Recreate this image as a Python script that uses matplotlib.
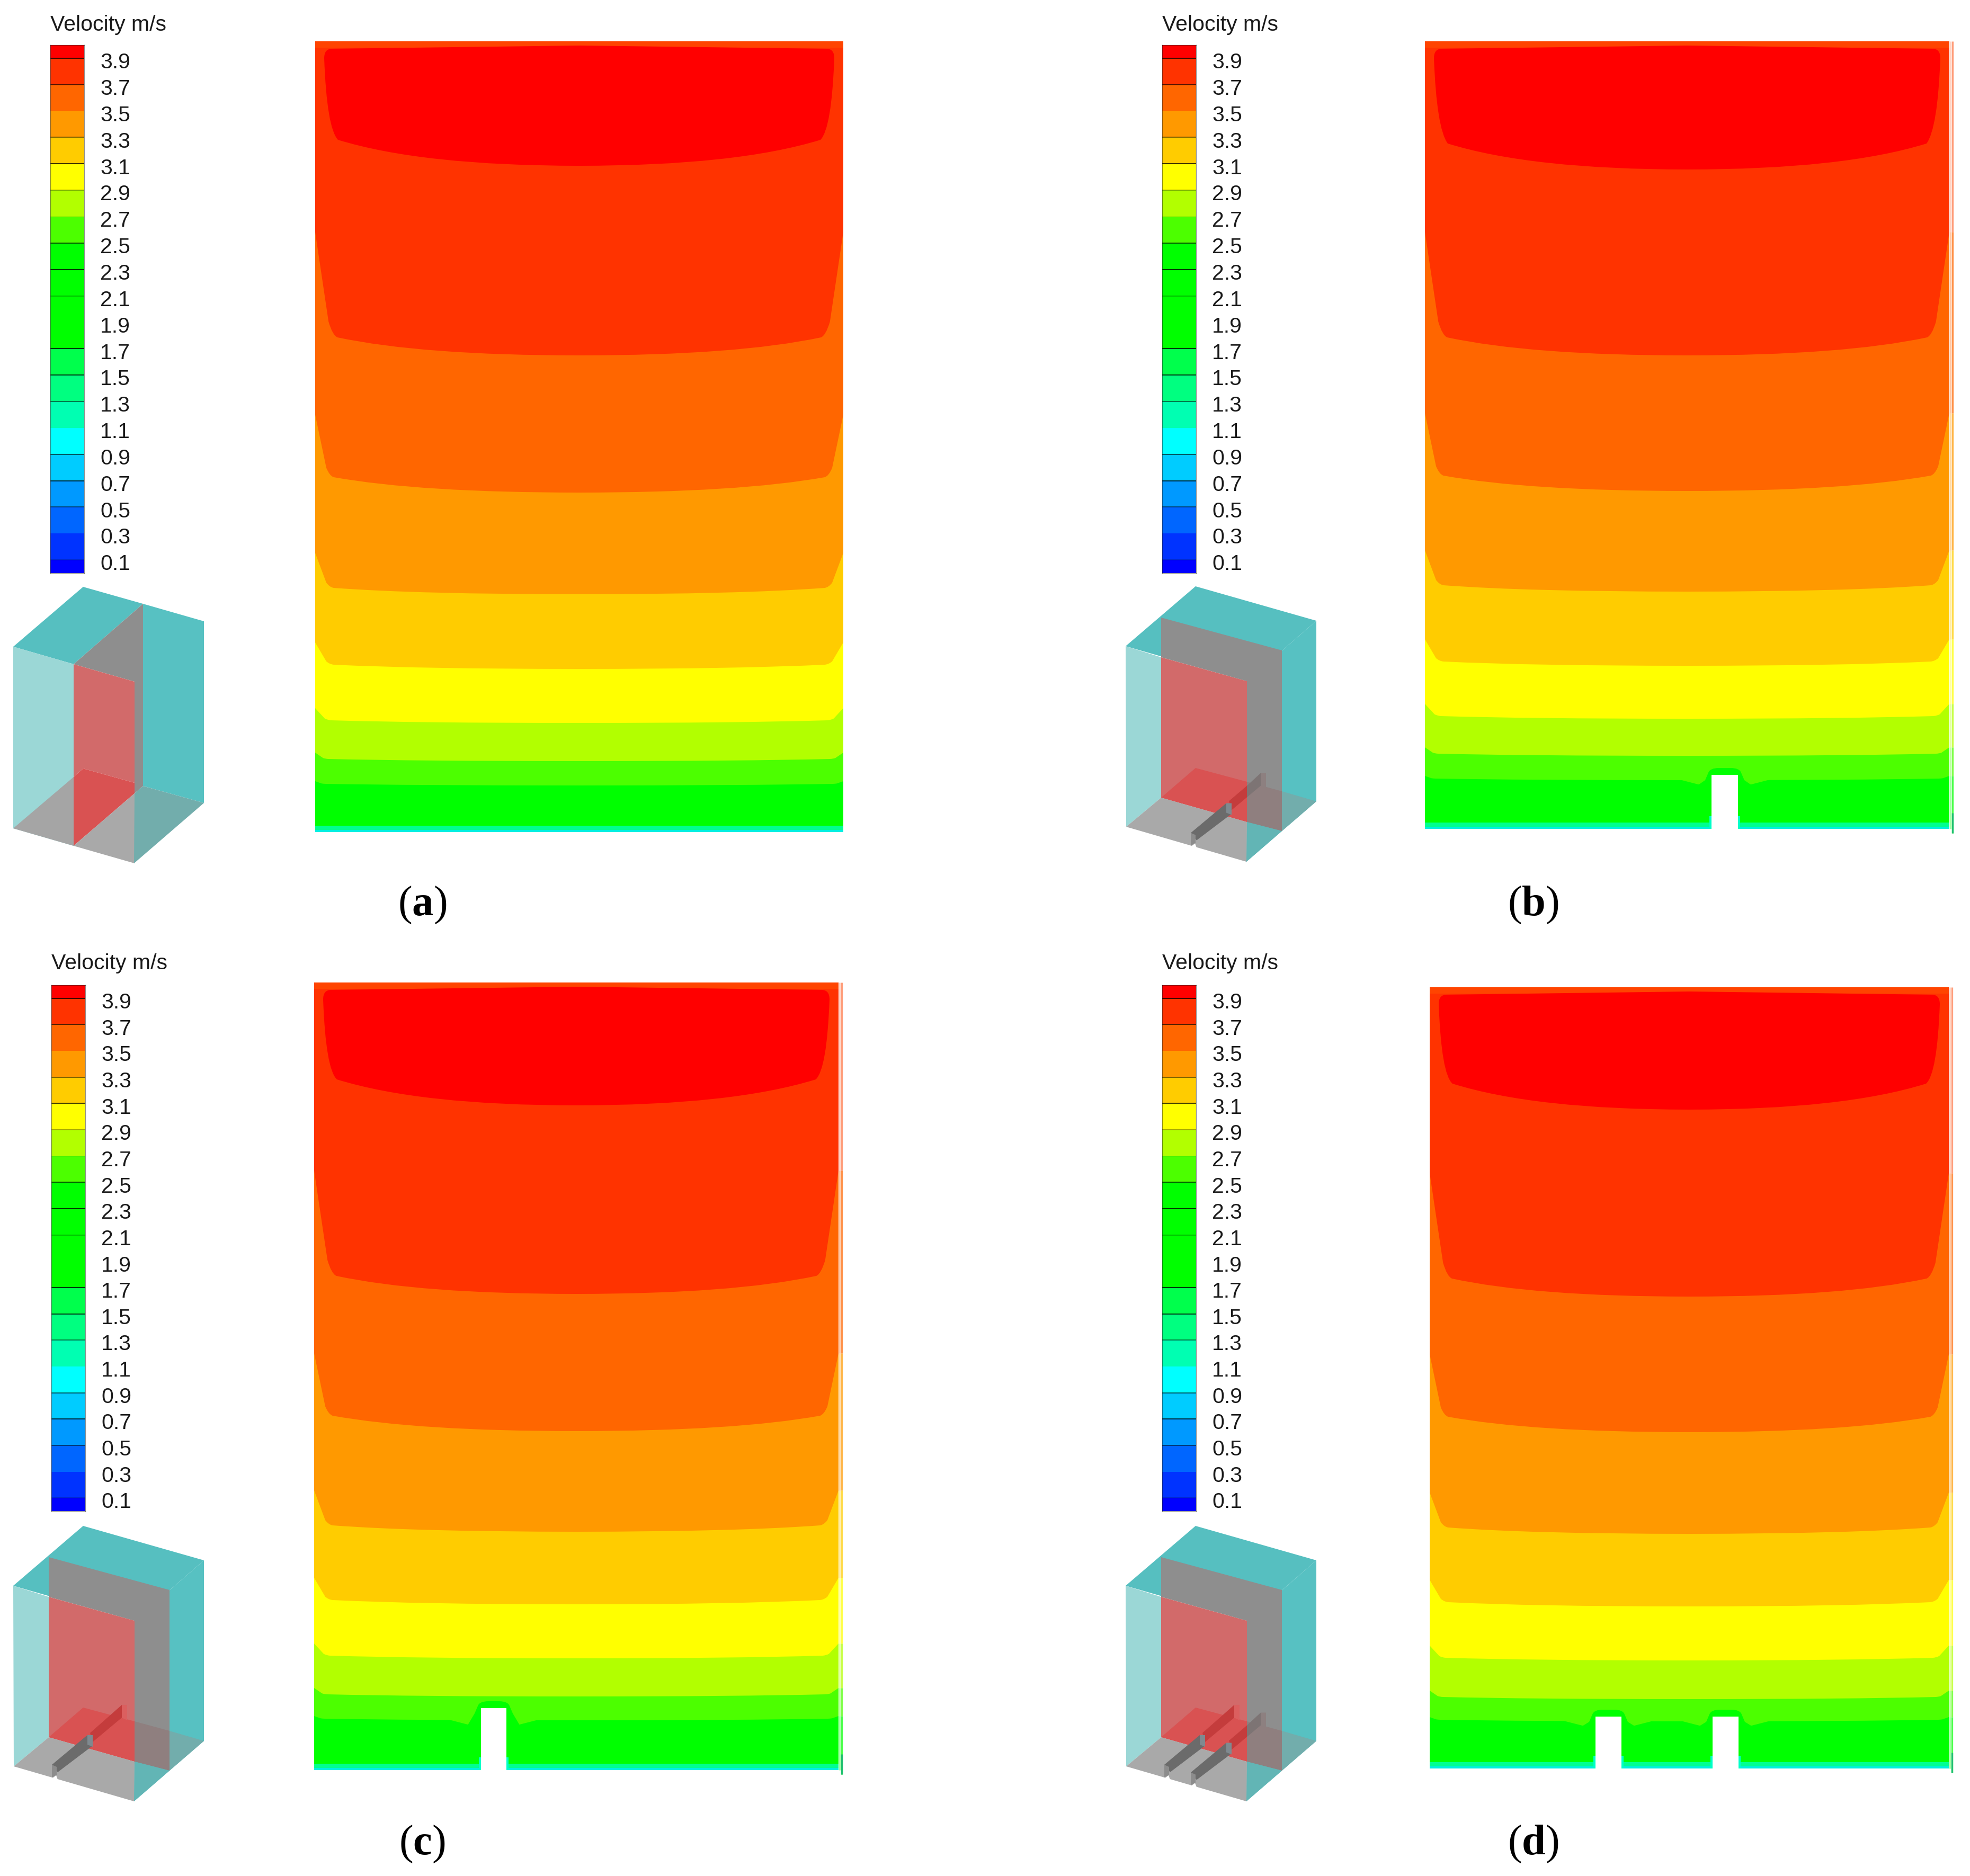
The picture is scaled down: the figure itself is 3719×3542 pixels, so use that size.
import matplotlib
matplotlib.use("Agg")
from matplotlib import pyplot as plt
from matplotlib.path import Path
from matplotlib.patches import PathPatch

plt.rcParams["mathtext.fontset"] = "custom"
plt.rcParams["mathtext.rm"] = "Liberation Serif"
plt.rcParams["mathtext.bf"] = "Liberation Serif:bold"

W, H = 3719, 3542

# colour bar, from the lowest cell to the highest
bar_edges = [0.0, 0.1, 0.3, 0.5, 0.7, 0.9, 1.1, 1.3, 1.5, 1.7, 1.9, 2.1, 2.3, 2.5, 2.7, 2.9, 3.1, 3.3, 3.5, 3.7, 3.9, 4.0]
bar_colors = ["#0000ff", "#0033ff", "#0066ff", "#0099ff", "#00ccff", "#00ffff", "#00ffb2", "#00ff80", "#00ff4c",
              "#00ff00", "#00ff00", "#00ff00", "#00ff00", "#4cff00", "#b2ff00", "#ffff00", "#ffcc00", "#ff9900",
              "#ff6600", "#ff3300", "#ff0000"]
bar_ticks = [0.1, 0.3, 0.5, 0.7, 0.9, 1.1, 1.3, 1.5, 1.7, 1.9, 2.1, 2.3, 2.5, 2.7, 2.9, 3.1, 3.3, 3.5, 3.7, 3.9]
line_alpha = [0.25, 0.0, 0.6, 0.9, 0.7, 0.0, 0.6, 0.9, 0.9, 0.0, 0.3, 0.9, 0.8, 0.05, 0.4, 0.9, 0.6, 0.0, 0.8, 0.9]

# contour bands in the slices, top to bottom
band_colors = ["#ff6600", "#ff9900", "#ffcc00", "#ffff00", "#b2ff00", "#4cff00", "#00ff00"]
corner_drop = [34, 29, 12, 8, 5, 4, 3]
wall_drop = [233, 147, 78, 50, 28, 16, 8]
corner_dx = [42, 35, 35, 35, 30, 25, 20]

# slice frames: left, right, top, bottom
frames = {"a": (595, 1592, 78, 1571), "b": (2690, 3680, 78, 1565),
          "c": (593, 1583, 1855, 3342), "d": (2699, 3679, 1864, 3339)}
# lowest edge of the red zone
red_bottom = {"a": 313, "b": 320, "c": 2087, "d": 2095}
# y of each band boundary along the middle of the slice
band_mid = {"a": [671, 930, 1122, 1263, 1365, 1437, 1483],
            "b": [671, 927, 1117, 1257, 1357, 1427, 1473],
            "c": [2443, 2702, 2892, 3029, 3131, 3203, 3248],
            "d": [2448, 2704, 2896, 3033, 3135, 3208, 3250]}
# blocks cut out of the slice floor: left, right, top
notches = {"a": [], "b": [(3231, 3281, 1463)], "c": [(908, 956, 3225)],
           "d": [(3012, 3061, 3241), (3233, 3282, 3241)]}
side_line = {"a": False, "b": True, "c": True, "d": True}

# colour bar and label placement: bar left, bar top, bar bottom, title y
bars = {"a": (95, 85, 1082, 47), "b": (2194, 85, 1082, 47), "c": (97, 1860, 2853, 1819), "d": (2194, 1860, 2853, 1819)}
letters = {"a": (797, 1709), "b": (2894, 1709), "c": (797, 3482), "d": (2894, 3482)}

# room sketch: outlines for panel c, shifted for b and d
inset_shift = {"b": (2100, -1774), "c": (0, 0), "d": (2100, 0)}
rib_fronts = {"b": [148], "c": [98], "d": [98, 148]}
room_parts = [
    ("#56bfc0", [(25, 2994), (157, 2881), (385, 2946), (254, 3060)]),
    ("#57c1c2", [(385, 2946), (385, 3287), (253, 3401), (254, 3060)]),
    ("#9bd7d6", [(25, 2994), (92, 3015), (92, 3280), (26, 3335)]),
    ("#8e8e8e", [(92, 2940), (320, 3002), (320, 3343), (254, 3326), (254, 3060), (92, 3015)]),
    ("#d26a6a", [(92, 3015), (254, 3060), (254, 3326), (92, 3280)]),
    ("#d95252", [(92, 3280), (157, 3224), (254, 3250), (254, 3326)]),
    ("#8f7f7f", [(254, 3250), (320, 3268), (320, 3343), (254, 3326)]),
    ("#72adac", [(320, 3268), (385, 3287), (320, 3343)]),
    ("#62b5b5", [(254, 3326), (320, 3343), (253, 3401)]),
    ("#a9a9a9", [(26, 3335), (92, 3280), (254, 3326), (253, 3401)]),
]
room_a_parts = [
    ("#56bfc0", [(25, 1221), (157, 1108), (270, 1140), (139, 1254)]),
    ("#9bd7d6", [(25, 1221), (139, 1254), (139, 1597), (25, 1564)]),
    ("#8e8e8e", [(139, 1254), (270, 1140), (270, 1484), (254, 1498), (254, 1287)]),
    ("#d26a6a", [(139, 1254), (254, 1287), (254, 1478), (157, 1451), (139, 1467)]),
    ("#57c1c2", [(270, 1140), (385, 1173), (385, 1516), (270, 1484)]),
    ("#a5a5a5", [(25, 1564), (139, 1467), (139, 1597)]),
    ("#d95252", [(139, 1597), (139, 1467), (157, 1451), (254, 1478), (254, 1498)]),
    ("#a9a9a9", [(139, 1597), (254, 1498), (254, 1630)]),
    ("#72adac", [(254, 1498), (270, 1484), (385, 1516), (253, 1630)]),
]


def fill_poly(ax, pts, color, z, dx=0, dy=0):
    ax.fill([p[0] + dx for p in pts], [p[1] + dy for p in pts], color=color, lw=0, zorder=z)


def fill_band(ax, frame, wall, corner, mid, dx, color, z):
    xl, xr, yt, yb = frame
    xc = (xl + xr) / 2
    rise = corner - wall
    xa = xl + dx
    xb = xr - dx
    verts = [(xl, wall), (xl + 0.6 * dx, corner - 0.15 * rise), (xl + 0.78 * dx, corner - 0.02 * rise), (xa, corner),
             (xa + 0.35 * (xc - xa), mid), (xc, mid),
             (xb - 0.35 * (xb - xc), mid), (xb, corner),
             (xr - 0.78 * dx, corner - 0.02 * rise), (xr - 0.6 * dx, corner - 0.15 * rise), (xr, wall),
             (xr, yb), (xl, yb), (xl, wall)]
    codes = [Path.MOVETO, Path.LINETO, Path.CURVE3, Path.CURVE3,
             Path.CURVE3, Path.CURVE3,
             Path.CURVE3, Path.CURVE3,
             Path.CURVE3, Path.CURVE3, Path.LINETO,
             Path.LINETO, Path.LINETO, Path.CLOSEPOLY]
    ax.add_patch(PathPatch(Path(verts, codes), facecolor=color, edgecolor="none", zorder=z))


def red_zone(ax, frame, bottom):
    xl, xr, yt, yb = frame
    xc = (xl + xr) / 2
    t = yt + 14
    xa = xl + 43
    xb = xr - 43
    verts = [(xl + 17, t + 18), (xl + 17, t), (xl + 32, t), (xc, t - 6), (xr - 32, t), (xr - 17, t), (xr - 17, t + 18),
             (xr - 22, t + 150), (xb, bottom - 49), (xb - 0.35 * (xb - xc), bottom), (xc, bottom),
             (xa + 0.35 * (xc - xa), bottom), (xa, bottom - 49), (xl + 22, t + 150), (xl + 17, t + 18), (xl + 17, t + 18)]
    codes = [Path.MOVETO, Path.CURVE3, Path.CURVE3, Path.LINETO, Path.LINETO, Path.CURVE3, Path.CURVE3,
             Path.CURVE3, Path.CURVE3, Path.CURVE3, Path.CURVE3, Path.CURVE3, Path.CURVE3, Path.CURVE3, Path.CURVE3,
             Path.CLOSEPOLY]
    ax.add_patch(PathPatch(Path(verts, codes), facecolor="#ff0000", edgecolor="none", zorder=3))


def draw_notch(ax, notch, floor_mid, yb):
    nl, nr, ntop = notch
    y0 = floor_mid
    # yellow-green dips on both sides of the block, green collar hugging it
    fill_poly(ax, [(nl - 60, y0 - 1), (nl - 25, y0 + 8), (nr + 25, y0 + 8), (nr + 60, y0 - 1)], "#4cff00", 11)
    verts = [(nl - 25, y0 + 9), (nl - 12, ntop + 10), (nl - 6, ntop - 4), (nl - 3, ntop - 13), (nl + 14, ntop - 13),
             (nr - 14, ntop - 13), (nr + 3, ntop - 13), (nr + 6, ntop - 4), (nr + 12, ntop + 10), (nr + 25, y0 + 9),
             (nl - 25, y0 + 9)]
    codes = [Path.MOVETO, Path.LINETO, Path.LINETO, Path.CURVE3, Path.CURVE3,
             Path.LINETO, Path.CURVE3, Path.CURVE3, Path.LINETO, Path.LINETO, Path.CLOSEPOLY]
    ax.add_patch(PathPatch(Path(verts, codes), facecolor="#00ff00", edgecolor="none", zorder=12))
    fill_poly(ax, [(nl - 4, yb - 24), (nl, yb - 24), (nl, yb), (nl - 4, yb)], "#00ffc8", 16)
    fill_poly(ax, [(nr, yb - 24), (nr + 4, yb - 24), (nr + 4, yb), (nr, yb)], "#00ffc8", 16)
    fill_poly(ax, [(nl, ntop), (nr, ntop), (nr, yb + 2), (nl, yb + 2)], "white", 17)


def draw_slice(ax, key):
    frame = frames[key]
    xl, xr, yt, yb = frame
    fill_poly(ax, [(xl, yt), (xr, yt), (xr, yb), (xl, yb)], "#ff3300", 1)
    fill_poly(ax, [(xl, yt), (xr, yt), (xr, yt + 12), (xl, yt + 12)], "#ff4400", 2)
    red_zone(ax, frame, red_bottom[key])
    mids = band_mid[key]
    for i, color in enumerate(band_colors):
        fill_band(ax, frame, mids[i] - wall_drop[i], mids[i] - corner_drop[i], mids[i], corner_dx[i], color, 4 + i)
    fill_poly(ax, [(xl, yb - 12), (xr, yb - 12), (xr, yb - 4), (xl, yb - 4)], "#00ff90", 15)
    fill_poly(ax, [(xl, yb - 4), (xr, yb - 4), (xr, yb), (xl, yb)], "#00f0e0", 15)
    for notch in notches[key]:
        draw_notch(ax, notch, mids[-1], yb)
    if side_line[key]:
        # thin washed-out strip standing just off the right wall
        x = xr + 6
        ax.vlines(x, yt, mids[0] - wall_drop[0], color="#ff7744", lw=2.4, alpha=0.7, zorder=3)
        ax.vlines(xr + 2, yt, mids[0] - wall_drop[0], color="#ff7744", lw=2.4, alpha=0.3, zorder=3)
        for i, color in enumerate(band_colors):
            stop = mids[i + 1] - wall_drop[i + 1] if i + 1 < len(band_colors) else yb + 8
            ax.vlines(x, mids[i] - wall_drop[i], stop, color=color, lw=2.4, alpha=0.7, zorder=3)
            ax.vlines(xr + 2, mids[i] - wall_drop[i], min(stop, yb), color=color, lw=2.4, alpha=0.35, zorder=3)
        ax.vlines(x, yb - 30, yb + 8, color="#20c070", lw=2.4, zorder=4)


def draw_ribs(ax, dx, dy, rx):
    yf = 3335 + 0.291 * (rx - 26)
    fill_poly(ax, [(rx, yf - 24), (rx + 67, yf - 80), (rx + 77, yf - 60), (rx + 11, yf - 10)], "#6b6b6b", 23, dx, dy)
    fill_poly(ax, [(rx, yf - 24), (rx + 9, yf - 20), (rx + 9, yf - 5), (rx, yf)], "#8c8c8c", 24, dx, dy)
    fill_poly(ax, [(rx + 67, yf - 80), (rx + 77, yf - 80), (rx + 77, yf - 58), (rx + 67, yf - 62)], "#7f8a90", 24, dx, dy)
    if rx + 132 > 254:
        # far end passes behind the grey wall
        top_y = yf - 84 - 0.85 * (254 - rx - 72)
        low_y = yf - 113 + 46 * (rx + 132 - 254) / 55
        fill_poly(ax, [(rx + 72, yf - 84), (254, top_y), (254, low_y), (rx + 77, yf - 67)], "#c43c3c", 22, dx, dy)
        fill_poly(ax, [(254, top_y), (rx + 132, yf - 137), (rx + 132, yf - 113), (254, low_y)], "#7d7474", 22, dx, dy)
        cap = "#8d8080"
    else:
        fill_poly(ax, [(rx + 72, yf - 84), (rx + 132, yf - 137), (rx + 132, yf - 113), (rx + 77, yf - 67)], "#c43c3c", 22, dx, dy)
        cap = "#db5f5f"
    fill_poly(ax, [(rx + 132, yf - 137), (rx + 142, yf - 137), (rx + 142, yf - 108), (rx + 132, yf - 113)], cap, 22, dx, dy)
    fill_poly(ax, [(rx + 8, yf - 4), (rx + 11, yf + 4), (rx, yf + 2)], "white", 25, dx, dy)


def draw_room(ax, key):
    if key == "a":
        for color, pts in room_a_parts:
            fill_poly(ax, pts, color, 20)
        return
    dx, dy = inset_shift[key]
    for color, pts in room_parts:
        fill_poly(ax, pts, color, 20, dx, dy)
    for rx in rib_fronts[key]:
        draw_ribs(ax, dx, dy, rx)


def draw_bar(fig, key):
    x0, top, bottom, title_y = bars[key]
    cax = fig.add_axes([x0 / W, 1 - bottom / H, 64 / W, (bottom - top) / H])
    widths = [b - a for a, b in zip(bar_edges[:-1], bar_edges[1:])]
    cax.bar([0.5] * len(bar_colors), widths, width=1, bottom=bar_edges[:-1], color=bar_colors, linewidth=0)
    for level, alpha in zip(bar_ticks, line_alpha):
        cax.hlines(level, 0, 1, color="black", lw=1.2, alpha=alpha)
    cax.set_xlim(0, 1)
    cax.set_ylim(0, 4.0)
    cax.set_xticks([])
    cax.set_yticks([])
    for side in cax.spines.values():
        side.set_color("#222222")
        side.set_alpha(0.5)
        side.set_linewidth(1)
    for level in bar_ticks:
        cax.text(94 / 64, level - 0.033, "%.1f" % level, fontsize=29.5, family="Liberation Sans",
                 color="#1a1a1a", ha="left", va="center", transform=cax.get_yaxis_transform())
    fig.text(x0 / W, 1 - title_y / H, "Velocity m/s", fontsize=29.5, family="Liberation Sans",
             color="#1a1a1a", ha="left", va="center")


fig = plt.figure(figsize=(W / 100, H / 100), dpi=100, facecolor="white")
ax = fig.add_axes([0, 0, 1, 1])
ax.set_xlim(0, W)
ax.set_ylim(H, 0)
ax.axis("off")

for key in frames:
    draw_slice(ax, key)
    draw_room(ax, key)
    draw_bar(fig, key)
    lx, ly = letters[key]
    ax.text(lx, ly, "($\\mathbf{%s}$)" % key, fontsize=58, family="Liberation Serif", color="black",
            ha="center", va="center", zorder=30)

fig.savefig("out.png", dpi=100)
